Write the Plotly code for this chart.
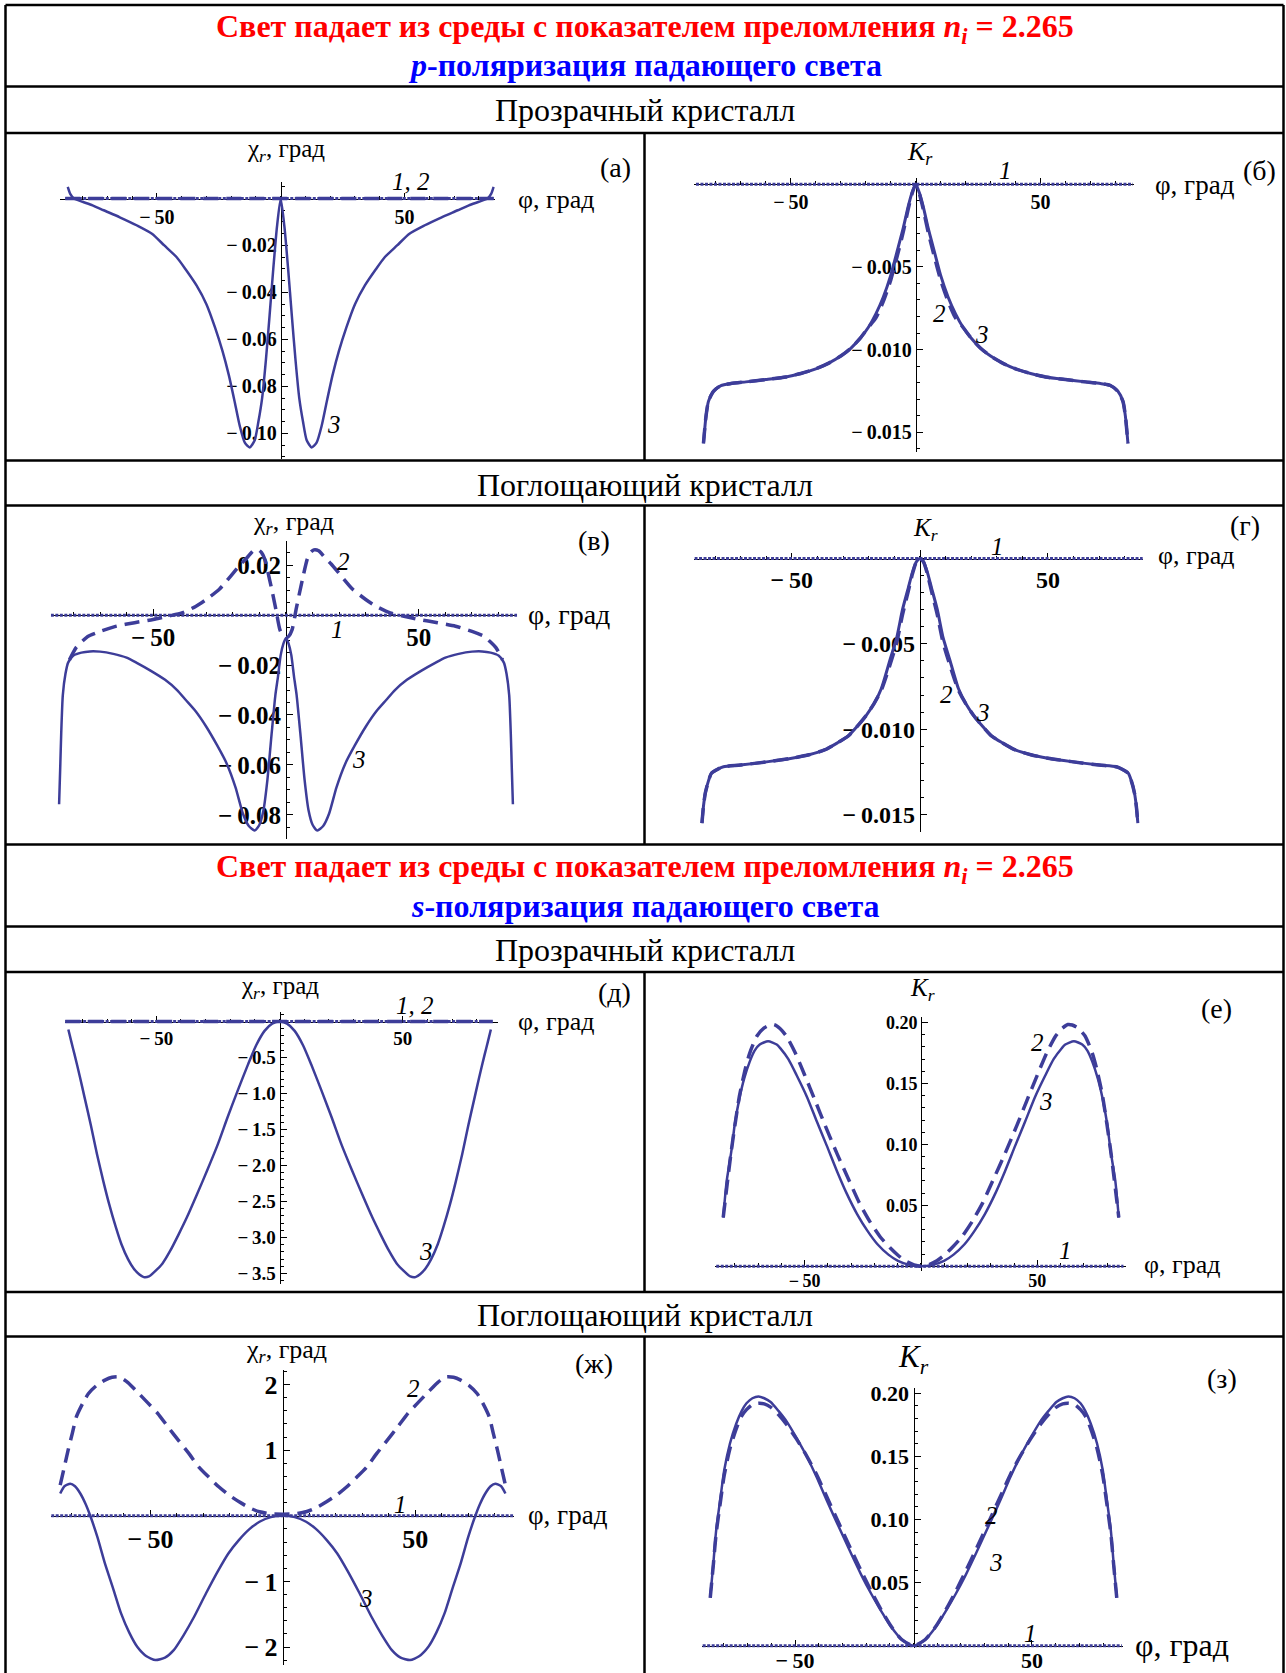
import plotly.graph_objects as go

W, H = 1286, 1673
LINE = "#3d3d99"
SERIF = "Liberation Serif"
NEG = "−\u2009"

# ---------------- data ----------------
x_tickvals = [-50, 50]
x_ticktext = [NEG + "50", "50"]

# (а) p-pol, transparent crystal, chi_r
a_phi12 = [-87, 86]
a_val1 = [0, 0]
a_val2 = [0, 0]
a_phi3 = [-86, -85, -83.5, -80, -76, -71.5, -65, -58, -52, -47, -42, -38.5, -34, -30, -26.5, -23.5, -21, -18.7, -16.5, -14.5,
          -12.5, -10.5, -9, -7.5, -6, -4.5, -3, -1.5, 0, 1.5, 3, 4.5, 6, 7.5, 9, 10.5, 12.5, 14.5, 16.5, 18.7,
          21, 23.5, 26.5, 30, 34, 38.5, 42, 47, 52, 58, 65, 71.5, 76, 80, 83.5, 85, 86]
a_val3 = [0.005, 0.002, 0.0, -0.0014, -0.0029, -0.005, -0.008, -0.0115, -0.015, -0.020, -0.025, -0.030, -0.037, -0.045,
          -0.055, -0.065, -0.075, -0.086, -0.097, -0.104, -0.106, -0.103, -0.095, -0.085, -0.069, -0.050, -0.030, -0.012,
          0.0,
          -0.012, -0.030, -0.050, -0.069, -0.085, -0.095, -0.103, -0.106, -0.104, -0.097, -0.086, -0.075, -0.065, -0.055,
          -0.045, -0.037, -0.030, -0.025, -0.020, -0.015, -0.0115, -0.008, -0.005, -0.0029, -0.0014, 0.0, 0.002, 0.005]
a_ytickvals = [-0.02, -0.04, -0.06, -0.08, -0.10]
a_yticktext = [NEG + "0.02", NEG + "0.04", NEG + "0.06", NEG + "0.08", NEG + "0.10"]

# (б) p-pol, transparent crystal, K_r
b_phi1 = [-88, 87]
b_val1 = [0, 0]
b_phi23 = [-85, -84, -83, -81, -78, -74, -68, -60, -52, -46, -40, -35, -30, -26, -22, -19, -16, -13, -10, -7.5, -5, -3, -1.5,
           0, 1.5, 3, 5, 7.5, 10, 13, 16, 19, 22, 26, 30, 35, 40, 46, 52, 60, 68, 74, 78, 81, 83, 84, 85]
b_val2 = [-0.01567, -0.01405, -0.01313, -0.01252, -0.01217, -0.01205, -0.01195, -0.01181, -0.01165, -0.01144, -0.01116,
          -0.01083, -0.01039, -0.00992, -0.00927, -0.00866, -0.0081, -0.0071, -0.0058, -0.0044, -0.0029, -0.0015, -0.0006,
          0.0,
          -0.0006, -0.0015, -0.0029, -0.0044, -0.0058, -0.0071, -0.0081, -0.00866, -0.00927, -0.00992, -0.01039, -0.01083,
          -0.01116, -0.01144, -0.01165, -0.01181, -0.01195, -0.01205, -0.01217, -0.01252, -0.01313, -0.01405, -0.01567]
b_val3 = [-0.01567, -0.01405, -0.01313, -0.01252, -0.01217, -0.01205, -0.01195, -0.01181, -0.01165, -0.01144, -0.01116,
          -0.01083, -0.01039, -0.00992, -0.00927, -0.00866, -0.00785, -0.00683, -0.00551, -0.00409, -0.00266, -0.00134,
          -0.00053, 0.0,
          -0.00053, -0.00134, -0.00266, -0.00409, -0.00551, -0.00683, -0.00785, -0.00866, -0.00927, -0.00992, -0.01039,
          -0.01083, -0.01116, -0.01144, -0.01165, -0.01181, -0.01195, -0.01205, -0.01217, -0.01252, -0.01313, -0.01405,
          -0.01567]
b_ytickvals = [-0.005, -0.010, -0.015]
b_yticktext = [NEG + "0.005", NEG + "0.010", NEG + "0.015"]

# (в) p-pol, absorbing crystal, chi_r
c_phi1 = [-88.5, 87]
c_val1 = [0, 0]
c_phi2 = [-81.5, -79, -76.5, -74.6, -70, -63.8, -57, -50, -44, -39.2, -34, -30, -25, -20.8, -17, -14.6, -12.3, -10.5, -9.2,
          -8, -6.2, -5, -3.8, -2.3, -1, 0, 1, 2.3, 3.8, 5, 6.2, 8, 9.2, 10.5, 12.3, 14.6, 17, 20.8, 25, 30, 34, 39.2, 44,
          50, 57, 63.8, 70, 74.6, 76.5, 79, 81.5]
c_val2 = [-0.0179, -0.0130, -0.0103, -0.0085, -0.0065, -0.0044, -0.0030, -0.0017, -0.0003, 0.0009, 0.0035, 0.0063, 0.0105,
          0.0157, 0.0205, 0.0231, 0.0258, 0.0262, 0.0251, 0.0225, 0.0144, 0.0085, 0.0023, -0.0058, -0.0085, -0.0091,
          -0.0085, -0.0058, 0.0023, 0.0085, 0.0144, 0.0225, 0.0251, 0.0262, 0.0258, 0.0231, 0.0205, 0.0157, 0.0105, 0.0063,
          0.0035, 0.0009, -0.0003, -0.0017, -0.0030, -0.0044, -0.0065, -0.0085, -0.0103, -0.0130, -0.0179]
c_phi3 = [-85.4, -85, -84.6, -84, -83, -82, -80, -77, -73.8, -70, -65, -60, -56, -51, -45.5, -41, -37.7, -34, -30, -26,
          -22.3, -19, -16.2, -14, -11.8, -10, -8.5, -7, -5.4, -4, -3, -2, -1, 0, 1, 2, 3, 4, 5.4, 7, 8.5, 10, 11.8, 14,
          16.2, 19, 22.3, 26, 30, 34, 37.7, 41, 45.5, 51, 56, 60, 65, 70, 73.8, 77, 80, 82, 83, 84, 84.6, 85, 85.4]
c_val3 = [-0.0758, -0.062, -0.0474, -0.032, -0.0235, -0.019, -0.0162, -0.0150, -0.0145, -0.0146, -0.0155, -0.0170, -0.0192,
          -0.0222, -0.0259, -0.0300, -0.0340, -0.0385, -0.0447, -0.0520, -0.0595, -0.0690, -0.0796, -0.0845, -0.0863,
          -0.0840, -0.0783, -0.066, -0.0474, -0.032, -0.0245, -0.016, -0.0115, -0.0091,
          -0.0115, -0.016, -0.0245, -0.032, -0.0474, -0.066, -0.0783, -0.0840, -0.0863, -0.0845, -0.0796, -0.0690, -0.0595,
          -0.0520, -0.0447, -0.0385, -0.0340, -0.0300, -0.0259, -0.0222, -0.0192, -0.0170, -0.0155, -0.0146, -0.0145,
          -0.0150, -0.0162, -0.019, -0.0235, -0.032, -0.0474, -0.062, -0.0758]
c_ytickvals = [0.02, -0.02, -0.04, -0.06, -0.08]
c_yticktext = ["0.02", NEG + "0.02", NEG + "0.04", NEG + "0.06", NEG + "0.08"]

# (г) p-pol, absorbing crystal, K_r
d_phi1 = [-88, 87]
d_val1 = [0, 0]
d_phi23 = [-85.1, -84.5, -83.8, -82.5, -81.4, -79, -76.7, -70, -59.2, -50, -43.3, -37, -32.2, -28, -24.3, -21, -17.9, -15,
           -11.6, -9, -6.8, -4.5, -2.9, -1.4, 0, 1.4, 2.9, 4.5, 6.8, 9, 11.6, 15, 17.9, 21, 24.3, 28, 32.2, 37, 43.3, 50,
           59.2, 70, 76.7, 79, 81.4, 82.5, 83.8, 84.5, 85.1]
d_val2 = [-0.0155, -0.0145, -0.01375, -0.0130, -0.01258, -0.01235, -0.0122, -0.0121, -0.0119, -0.0117, -0.0115, -0.0112,
          -0.0108, -0.0104, -0.0098, -0.0092, -0.0085, -0.0077, -0.0062, -0.0049, -0.0033, -0.0019, -0.0009, -0.0002, 0.0,
          -0.0002, -0.0009, -0.0019, -0.0033, -0.0049, -0.0062, -0.0077, -0.0085, -0.0092, -0.0098, -0.0104, -0.0108,
          -0.0112, -0.0115, -0.0117, -0.0119, -0.0121, -0.0122, -0.01235, -0.01258, -0.0130, -0.01375, -0.0145, -0.0155]
d_val3 = [-0.0155, -0.0145, -0.01375, -0.0130, -0.01258, -0.01235, -0.0122, -0.0121, -0.0119, -0.0117, -0.0115, -0.0112,
          -0.0108, -0.0104, -0.0098, -0.0092, -0.0085, -0.0076, -0.0059, -0.0046, -0.0030, -0.0017, -0.0008, -0.0002, 0.0,
          -0.0002, -0.0008, -0.0017, -0.0030, -0.0046, -0.0059, -0.0076, -0.0085, -0.0092, -0.0098, -0.0104, -0.0108,
          -0.0112, -0.0115, -0.0117, -0.0119, -0.0121, -0.0122, -0.01235, -0.01258, -0.0130, -0.01375, -0.0145, -0.0155]
d_ytickvals = [-0.005, -0.010, -0.015]
d_yticktext = [NEG + "0.005", NEG + "0.010", NEG + "0.015"]

# (д) s-pol, transparent crystal, chi_r
e_phi12 = [-87, 86.5]
e_val1 = [0, 0]
e_val2 = [0, 0]
e_phi3 = [-85.7, -84.5, -83.2, -81, -79.1, -76.5, -74.1, -71.5, -69.2, -66.5, -64.2, -61.5, -59.2, -57, -55.1, -53, -50.9,
          -47.5, -44.3, -41, -37.6, -33.5, -29.4, -25, -21.1, -17, -12.8, -9.5, -6.1, -3, 0, 3, 6.1, 9.5, 12.8, 17, 21.1,
          25, 29.4, 33.5, 37.6, 41, 44.3, 47.5, 50.9, 53, 55.1, 57, 59.2, 61.5, 64.2, 66.5, 69.2, 71.5, 74.1, 76.5, 79.1,
          81, 83.2, 84.5, 85.7]
e_val3 = [-0.11, -0.28, -0.457, -0.77, -1.057, -1.45, -1.84, -2.22, -2.53, -2.85, -3.09, -3.30, -3.43, -3.51, -3.55, -3.54,
          -3.48, -3.36, -3.18, -2.96, -2.72, -2.40, -2.07, -1.70, -1.33, -0.96, -0.595, -0.33, -0.13, -0.03, 0.0,
          -0.03, -0.13, -0.33, -0.595, -0.96, -1.33, -1.70, -2.07, -2.40, -2.72, -2.96, -3.18, -3.36, -3.48, -3.54, -3.55,
          -3.51, -3.43, -3.30, -3.09, -2.85, -2.53, -2.22, -1.84, -1.45, -1.057, -0.77, -0.457, -0.28, -0.11]
e_ytickvals = [-0.5, -1.0, -1.5, -2.0, -2.5, -3.0, -3.5]
e_yticktext = [NEG + "0.5", NEG + "1.0", NEG + "1.5", NEG + "2.0", NEG + "2.5", NEG + "3.0", NEG + "3.5"]

# (е) s-pol, transparent crystal, K_r
f_phi1 = [-88, 87]
f_val1 = [0, 0]
f_phi2 = [-85, -81.5, -78, -75.5, -73.6, -70.5, -67.4, -65, -63.1, -60.5, -57.8, -54, -50, -45.5, -41.3, -36, -30.8, -26.5,
          -22.1, -17.5, -13.4, -9.9, -6.4, -3, 0, 3, 6.4, 9.9, 13.4, 17.5, 22.1, 26.5, 30.8, 36, 41.3, 45.5, 50, 54, 57.8,
          60.5, 63.1, 65, 67.4, 70.5, 73.6, 75.5, 78, 81.5, 85]
f_val2 = [0.040, 0.095, 0.140, 0.162, 0.175, 0.189, 0.1956, 0.198, 0.1984, 0.195, 0.1888, 0.175, 0.157, 0.136, 0.116, 0.092,
          0.070, 0.052, 0.037, 0.024, 0.0153, 0.009, 0.004, 0.001, 0.0,
          0.001, 0.004, 0.009, 0.0153, 0.024, 0.037, 0.052, 0.070, 0.092, 0.116, 0.136, 0.157, 0.175, 0.1888, 0.195,
          0.1984, 0.198, 0.1956, 0.189, 0.175, 0.162, 0.140, 0.095, 0.040]
f_phi3 = [-85, -83.5, -81.5, -80, -78, -76, -73.6, -71.5, -69.3, -65.7, -62, -60.5, -57, -53.5, -49, -44.8, -40.5, -36.1,
          -32, -27.4, -23, -18.7, -14, -9.9, -5, 0, 5, 9.9, 14, 18.7, 23, 27.4, 32, 36.1, 40.5, 44.8, 49, 53.5, 57, 60.5,
          62, 65.7, 69.3, 71.5, 73.6, 76, 78, 80, 81.5, 83.5, 85]
f_val3 = [0.0399, 0.070, 0.0945, 0.117, 0.138, 0.154, 0.168, 0.177, 0.182, 0.1847, 0.182, 0.179, 0.170, 0.157, 0.139, 0.119,
          0.099, 0.078, 0.060, 0.0426, 0.029, 0.018, 0.0095, 0.0044, 0.0011, 0.0,
          0.0011, 0.0044, 0.0095, 0.018, 0.029, 0.0426, 0.060, 0.078, 0.099, 0.119, 0.139, 0.157, 0.170, 0.179, 0.182,
          0.1847, 0.182, 0.177, 0.168, 0.154, 0.138, 0.117, 0.0945, 0.070, 0.0399]
f_ytickvals = [0.05, 0.10, 0.15, 0.20]
f_yticktext = ["0.05", "0.10", "0.15", "0.20"]

# (ж) s-pol, absorbing crystal, chi_r
g_phi1 = [-87.5, 87]
g_val1 = [0, 0]
g_phi2 = [-84.1, -82.5, -81.1, -79.5, -78, -75.5, -73.4, -70.5, -67.2, -64.5, -61.8, -58.5, -55, -51, -47.2, -43.5, -39.5,
          -35.5, -31.8, -28, -24.2, -20.5, -16.5, -12.5, -8.8, -4.5, 0, 4.5, 8.8, 12.5, 16.5, 20.5, 24.2, 28, 31.8, 35.5,
          39.5, 43.5, 47.2, 51, 55, 58.5, 61.8, 64.5, 67.2, 70.5, 73.4, 75.5, 78, 79.5, 81.1, 82.5, 84.1]
g_val2 = [0.467, 0.75, 1.0, 1.26, 1.507, 1.72, 1.863, 1.98, 2.066, 2.11, 2.117, 2.03, 1.888, 1.72, 1.558, 1.36, 1.152, 0.95,
          0.746, 0.59, 0.442, 0.32, 0.213, 0.12, 0.061, 0.03, 0.025,
          0.03, 0.061, 0.12, 0.213, 0.32, 0.442, 0.59, 0.746, 0.95, 1.152, 1.36, 1.558, 1.72, 1.888, 2.03, 2.117, 2.11,
          2.066, 1.98, 1.863, 1.72, 1.507, 1.26, 1.0, 0.75, 0.467]
g_phi3 = [-84.1, -82.5, -80.3, -78.5, -76.5, -74.5, -72.6, -70, -67.2, -64, -61.1, -58, -55, -51.5, -48.1, -44.5, -41.2,
          -37.5, -33.5, -29, -24.3, -20.5, -16.6, -12.5, -8.8, -4.5, 0, 4.5, 8.8, 12.5, 16.6, 20.5, 24.3, 29, 33.5, 37.5,
          41.2, 44.5, 48.1, 51.5, 55, 58, 61.1, 64, 67.2, 70, 72.6, 74.5, 76.5, 78.5, 80.3, 82.5, 84.1]
g_val3 = [0.34, 0.45, 0.49, 0.45, 0.34, 0.18, -0.015, -0.33, -0.726, -1.12, -1.487, -1.78, -1.995, -2.14, -2.198, -2.16,
          -2.046, -1.82, -1.538, -1.18, -0.827, -0.57, -0.37, -0.20, -0.091, -0.02, 0.0,
          -0.02, -0.091, -0.20, -0.37, -0.57, -0.827, -1.18, -1.538, -1.82, -2.046, -2.16, -2.198, -2.14, -1.995, -1.78,
          -1.487, -1.12, -0.726, -0.33, -0.015, 0.18, 0.34, 0.45, 0.49, 0.45, 0.34]
g_ytickvals = [2, 1, -1, -2]
g_yticktext = ["2", "1", NEG + "1", NEG + "2"]

# (з) s-pol, absorbing crystal, K_r
h_phi1 = [-89, 88]
h_val1 = [0, 0]
h_phi23 = [-85.8, -84.5, -83.3, -81.5, -79.9, -77.5, -74.8, -72.5, -70.5, -68, -65.4, -63, -60.3, -57, -53.5, -49.5, -45,
           -41, -36.6, -31.5, -26.3, -22, -17.8, -13.5, -9.3, -5, 0, 5, 9.3, 13.5, 17.8, 22, 26.3, 31.5, 36.6, 41, 45,
           49.5, 53.5, 57, 60.3, 63, 65.4, 68, 70.5, 72.5, 74.8, 77.5, 79.9, 81.5, 83.3, 84.5, 85.8]
h_val2 = [0.038, 0.064, 0.089, 0.114, 0.135, 0.156, 0.172, 0.182, 0.187, 0.191, 0.192, 0.1915, 0.189, 0.183, 0.175, 0.164,
          0.150, 0.136, 0.118, 0.097, 0.076, 0.059, 0.043, 0.028, 0.015, 0.005, 0.0,
          0.005, 0.015, 0.028, 0.043, 0.059, 0.076, 0.097, 0.118, 0.136, 0.150, 0.164, 0.175, 0.183, 0.189, 0.1915, 0.192,
          0.191, 0.187, 0.182, 0.172, 0.156, 0.135, 0.114, 0.089, 0.064, 0.038]
h_val3 = [0.0384, 0.065, 0.0914, 0.117, 0.139, 0.160, 0.176, 0.186, 0.192, 0.196, 0.1974, 0.196, 0.193, 0.186, 0.1775,
          0.165, 0.1497, 0.134, 0.115, 0.094, 0.0729, 0.056, 0.041, 0.027, 0.0146, 0.005, 0.0,
          0.005, 0.0146, 0.027, 0.041, 0.056, 0.0729, 0.094, 0.115, 0.134, 0.1497, 0.165, 0.1775, 0.186, 0.193, 0.196,
          0.1974, 0.196, 0.192, 0.186, 0.176, 0.160, 0.139, 0.117, 0.0914, 0.065, 0.0384]
h_ytickvals = [0.05, 0.10, 0.15, 0.20]
h_yticktext = ["0.05", "0.10", "0.15", "0.20"]

# ---------------- styles / layout geometry ----------------
DOT = dict(dash="3px,1.5px", width=3)
DASH = dict(dash="15px,8px", width=3.5)
SOLID = dict(dash="solid", width=2.5)
SOLID_T = dict(dash="solid", width=3)

CHI = "χ<sub><i>r</i></sub>, град"
KR = "<i>K<sub>r</sub></i>"
PHI = "φ, град"

panels = [
    dict(x0=280.7, xs=2.476, y0=198.5, ys=2348, xr=[-89, 86.5], yr=[-0.111, 0.007],
         ytv=a_ytickvals, ytt=a_yticktext, ymin=0.005, tfs=20, xstand=0,
         curves=[(a_phi12, a_val1, DOT), (a_phi12, a_val2, DASH), (a_phi3, a_val3, SOLID)]),
    dict(x0=915.7, xs=2.497, y0=184.2, ys=16542, xr=[-88.6, 87.6], yr=[-0.0162, 0.0004],
         ytv=b_ytickvals, ytt=b_yticktext, ymin=0.001, tfs=20, xstand=0,
         curves=[(b_phi1, b_val1, DOT), (b_phi23, b_val2, DASH), (b_phi23, b_val3, SOLID_T)]),
    dict(x0=286.0, xs=2.657, y0=615.2, ys=2495, xr=[-88.5, 87], yr=[-0.0897, 0.0298],
         ytv=c_ytickvals, ytt=c_yticktext, ymin=0.005, tfs=25, xstand=0,
         curves=[(c_phi1, c_val1, DOT), (c_phi2, c_val2, DASH), (c_phi3, c_val3, SOLID)]),
    dict(x0=919.9, xs=2.561, y0=558.5, ys=17070, xr=[-88.1, 87.1], yr=[-0.016, 0.0005],
         ytv=d_ytickvals, ytt=d_yticktext, ymin=0.001, tfs=24, xstand=0,
         curves=[(d_phi1, d_val1, DOT), (d_phi23, d_val2, DASH), (d_phi23, d_val3, SOLID_T)]),
    dict(x0=279.6, xs=2.465, y0=1021.5, ys=72.0, xr=[-87, 88.4], yr=[-3.64, 0.13],
         ytv=e_ytickvals, ytt=e_yticktext, ymin=0.1, tfs=19, xstand=0,
         curves=[(e_phi12, e_val1, DOT), (e_phi12, e_val2, DASH), (e_phi3, e_val3, SOLID)]),
    dict(x0=921.0, xs=2.327, y0=1266.2, ys=1218, xr=[-88.6, 87.9], yr=[-0.004, 0.205],
         ytv=f_ytickvals, ytt=f_yticktext, ymin=0.01, tfs=18, xstand=-2,
         curves=[(f_phi1, f_val1, DOT), (f_phi2, f_val2, DASH), (f_phi3, f_val3, SOLID)]),
    dict(x0=282.8, xs=2.647, y0=1515.8, ys=65.65, xr=[-87.5, 87.4], yr=[-2.27, 2.22],
         ytv=g_ytickvals, ytt=g_yticktext, ymin=0.2, tfs=26, xstand=0,
         curves=[(g_phi1, g_val1, DOT), (g_phi2, g_val2, DASH), (g_phi3, g_val3, SOLID)]),
    dict(x0=913.5, xs=2.369, y0=1645.8, ys=1263, xr=[-89.3, 88.4], yr=[-0.002, 0.204],
         ytv=h_ytickvals, ytt=h_yticktext, ymin=0.01, tfs=22, xstand=-5,
         curves=[(h_phi1, h_val1, DOT), (h_phi23, h_val2, DASH), (h_phi23, h_val3, SOLID)]),
]

fig = go.Figure()
layout = dict(width=W, height=H, margin=dict(l=0, r=0, t=0, b=0, autoexpand=False),
              paper_bgcolor="white", plot_bgcolor="rgba(0,0,0,0)", showlegend=False)

for i, p in enumerate(panels, start=1):
    left = p["x0"] + p["xr"][0] * p["xs"]
    right = p["x0"] + p["xr"][1] * p["xs"]
    top = p["y0"] - p["yr"][1] * p["ys"]
    bottom = p["y0"] - p["yr"][0] * p["ys"]
    xid = "x" if i == 1 else f"x{i}"
    yid = "y" if i == 1 else f"y{i}"
    xkey = "xaxis" if i == 1 else f"xaxis{i}"
    ykey = "yaxis" if i == 1 else f"yaxis{i}"
    tickfont = dict(family=SERIF, size=p["tfs"], color="black", weight="bold")
    layout[xkey] = dict(domain=[left / W, right / W], range=p["xr"], anchor="free",
                        position=1 - p["y0"] / H, showline=True, linecolor="black", linewidth=1,
                        showgrid=False, zeroline=False, ticks="inside", ticklen=6, tickcolor="black",
                        tickmode="array", tickvals=x_tickvals, ticktext=x_ticktext, tickfont=tickfont,
                        ticklabelstandoff=p["xstand"],
                        minor=dict(tickmode="linear", tick0=0, dtick=10, ticks="inside", ticklen=3,
                                   tickcolor="black", showgrid=False),
                        layer="below traces", fixedrange=True)
    layout[ykey] = dict(domain=[1 - bottom / H, 1 - top / H], range=p["yr"], anchor="free",
                        position=p["x0"] / W, showline=True, linecolor="black", linewidth=1,
                        showgrid=False, zeroline=False, ticks="inside", ticklen=6, tickcolor="black",
                        tickmode="array", tickvals=p["ytv"], ticktext=p["ytt"], tickfont=tickfont,
                        minor=dict(tickmode="linear", tick0=0, dtick=p["ymin"], ticks="inside", ticklen=3,
                                   tickcolor="black", showgrid=False),
                        layer="below traces", fixedrange=True)
    for xs_, ys_, st in p["curves"]:
        fig.add_trace(go.Scatter(x=xs_, y=ys_, mode="lines", xaxis=xid, yaxis=yid,
                                 line=dict(color=LINE, width=st["width"], dash=st["dash"],
                                           shape="spline", smoothing=0.6),
                                 hoverinfo="skip"))

# ---------------- table frame ----------------
def px(x):
    return x / W

def py(y):
    return 1 - y / H

shapes = []
LW = 2.5
for yy in [5, 86.5, 133, 460.5, 505.5, 844.5, 926.5, 972, 1292, 1336.5]:
    shapes.append(dict(type="line", xref="paper", yref="paper", x0=px(5.5), x1=px(1283.5), y0=py(yy), y1=py(yy),
                       line=dict(color="black", width=LW)))
for xx in [5.5, 1283.5]:
    shapes.append(dict(type="line", xref="paper", yref="paper", x0=px(xx), x1=px(xx), y0=py(5), y1=py(1673),
                       line=dict(color="black", width=LW)))
for (ya, yb) in [(133, 460.5), (505.5, 844.5), (972, 1292), (1336.5, 1673)]:
    shapes.append(dict(type="line", xref="paper", yref="paper", x0=px(644.5), x1=px(644.5), y0=py(ya), y1=py(yb),
                       line=dict(color="black", width=LW)))
layout["shapes"] = shapes

# ---------------- texts ----------------
anns = []

def ann(x, y, text, size, color="black", weight="normal", style="normal", xanchor="center"):
    anns.append(dict(x=px(x), y=py(y), xref="paper", yref="paper", text=text, showarrow=False,
                     xanchor=xanchor, yanchor="middle",
                     font=dict(family=SERIF, size=size, color=color, weight=weight, style=style)))

RED = "#ff0000"
BLU = "#0000ff"
TITLE_RED = "Свет падает из среды с показателем преломления <i>n<sub>i</sub></i> = 2.265"
for yr_, yb_, pol in [(28.8, 65.1, "p"), (868.7, 906, "s")]:
    ann(645, yr_, TITLE_RED, 32, RED, "bold")
    ann(645, yb_, f"<i>{pol}</i>-поляризация падающего света", 32, BLU, "bold")
ann(645, 110, "Прозрачный кристалл", 32)
ann(645, 484.5, "Поглощающий кристалл", 32)
ann(645, 950, "Прозрачный кристалл", 32)
ann(645, 1315, "Поглощающий кристалл", 32)

# axis titles
for (x, y, t, s) in [(286, 150.5, CHI, 25), (920, 152.6, KR, 26), (293.5, 523, CHI, 26), (925, 529, KR, 25),
                     (279.6, 987, CHI, 25), (923, 990, KR, 25), (286, 1351, CHI, 26), (913.5, 1358.5, KR, 31)]:
    ann(x, y, t, s)
for (x, y, s) in [(515.5, 199.6, 26), (1152.6, 184.6, 27), (526, 614, 28), (1155.8, 556, 26),
                  (515.5, 1021, 26), (1141.9, 1264.6, 26), (526, 1515, 27), (1133, 1644.5, 32)]:
    ann(x, y, PHI, s, xanchor="left")

# panel letters
for (x, y, t) in [(615.8, 167.5, "(а)"), (1259, 170.8, "(б)"), (594.4, 540, "(в)"), (1245.4, 525, "(г)"),
                  (614.7, 992.5, "(д)"), (1216.6, 1008.5, "(е)"), (594.4, 1363.9, "(ж)"), (1222, 1378.8, "(з)")]:
    ann(x, y, t, 28)

# curve labels
for (x, y, t) in [(411, 181, "1, 2"), (334, 424.7, "3"),
                  (1005.3, 170.8, "1"), (939, 313.8, "2"), (981.8, 334, "3"),
                  (343.6, 561.3, "2"), (337.2, 629.6, "1"), (358.6, 759.8, "3"),
                  (997.8, 546.4, "1"), (946.6, 694.7, "2"), (982.9, 712.9, "3"),
                  (415.1, 1005.3, "1, 2"), (425.8, 1251.8, "3"),
                  (1065, 1250.8, "1"), (1037.3, 1042.7, "2"), (1045.9, 1101.3, "3"),
                  (413, 1388.4, "2"), (400.2, 1504.8, "1"), (366, 1598.7, "3"),
                  (1030.9, 1633.9, "1"), (991.4, 1515.4, "2"), (995.7, 1562.4, "3")]:
    ann(x, y, t, 25, style="italic")

layout["annotations"] = anns
fig.update_layout(**layout)
fig.write_html("out.html", config={"displayModeBar": False},
               post_script="document.documentElement.style.margin='0';document.body.style.margin='0';"
                           "document.body.style.padding='0';")
